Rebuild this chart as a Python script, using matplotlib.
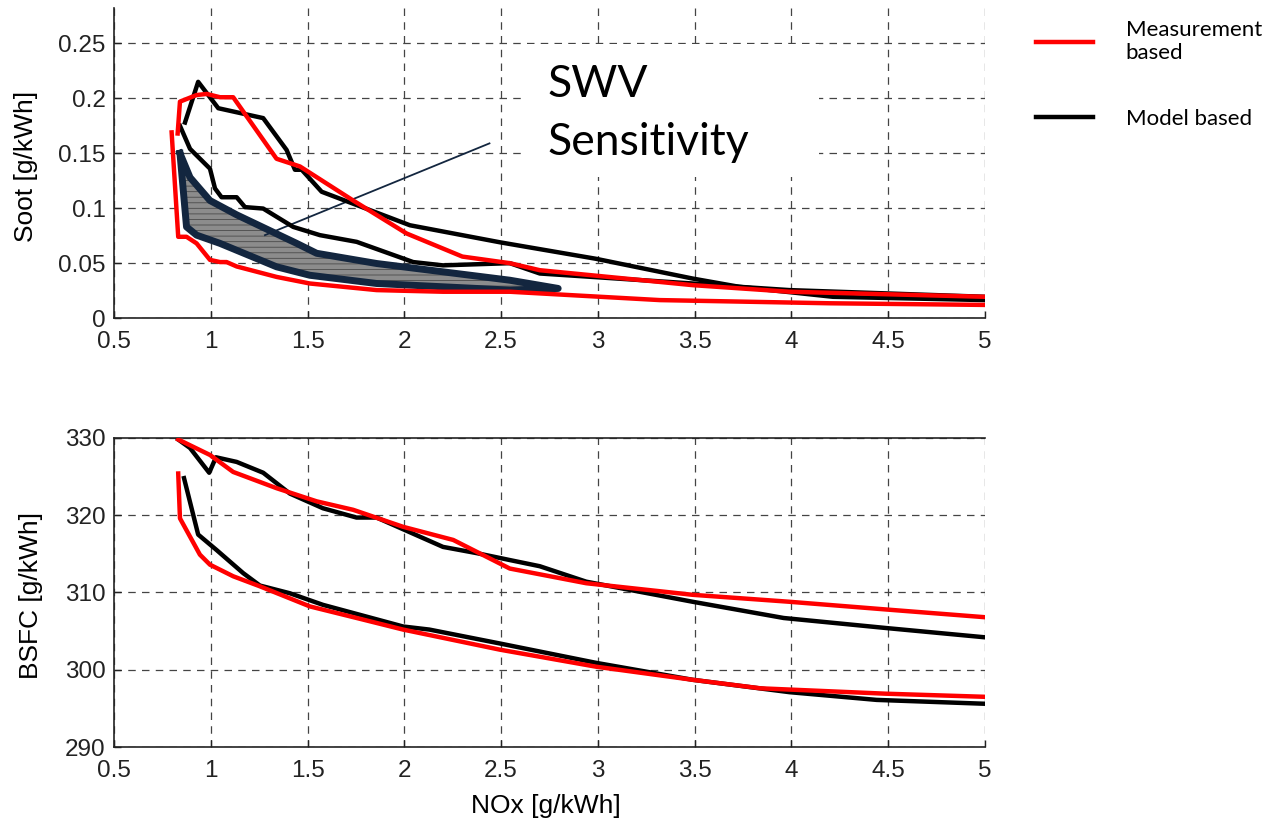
"""
Soot / BSFC vs NOx trade-off, measurement vs model based
"""
import matplotlib
matplotlib.use("Agg")
import matplotlib.pyplot as plt
from matplotlib.patches import Rectangle
from matplotlib.ticker import FormatStrFormatter

# --- soot vs NOx ---
meas_soot_1_x = [0.798, 0.832, 0.875, 0.927, 0.996, 1.048, 1.082, 1.134, 1.34, 1.512, 1.857, 2.20, 2.545, 3.32, 4.2, 5.0]
meas_soot_1_y = [0.169, 0.074, 0.074, 0.068, 0.053, 0.051, 0.051, 0.047, 0.0375, 0.0315, 0.0255, 0.024, 0.024, 0.0164, 0.0135, 0.012]

meas_soot_2_x = [0.829, 0.841, 0.927, 0.979, 1.048, 1.116, 1.34, 1.461, 1.736, 2.012, 2.30, 2.545, 2.70, 3.49, 3.99, 5.0]
meas_soot_2_y = [0.168, 0.197, 0.203, 0.204, 0.201, 0.201, 0.145, 0.138, 0.107, 0.077, 0.056, 0.050, 0.0436, 0.030, 0.024, 0.0194]

model_soot_1_x = [0.867, 0.935, 1.039, 1.271, 1.392, 1.435, 1.47, 1.573, 2.029, 2.494, 2.99, 3.49, 3.73, 3.99, 5.0]
model_soot_1_y = [0.178, 0.215, 0.191, 0.182, 0.153, 0.135, 0.135, 0.115, 0.0845, 0.069, 0.054, 0.036, 0.0285, 0.0255, 0.0194]

model_soot_2_x = [0.841, 0.893, 0.996, 1.022, 1.056, 1.134, 1.177, 1.271, 1.426, 1.564, 1.754, 2.046, 2.20, 2.545, 2.70, 3.49, 3.73, 4.215, 5.0]
model_soot_2_y = [0.175, 0.154, 0.136, 0.118, 0.110, 0.110, 0.101, 0.0997, 0.083, 0.0755, 0.0694, 0.051, 0.048, 0.050, 0.0406, 0.0315, 0.0285, 0.0194, 0.0164]

# sensitivity band (upper edge then lower edge back)
band_x = [0.841, 0.893, 0.996, 1.134, 1.444, 1.547, 1.857, 2.545, 2.795,
          2.545, 2.20, 1.857, 1.512, 1.34, 1.048, 0.927, 0.875, 0.841]
band_y = [0.150, 0.128, 0.107, 0.094, 0.068, 0.059, 0.0497, 0.0345, 0.027,
          0.0255, 0.0285, 0.0315, 0.039, 0.0467, 0.068, 0.0755, 0.083, 0.150]

pointer_x = [1.28, 2.44]
pointer_y = [0.0755, 0.159]

# --- BSFC vs NOx ---
meas_bsfc_1_x = [0.832, 0.996, 1.116, 1.34, 1.547, 1.736, 1.994, 2.253, 2.545, 2.94, 3.49, 3.99, 4.49, 5.0]
meas_bsfc_1_y = [329.8, 327.8, 325.6, 323.5, 321.8, 320.7, 318.5, 316.8, 313.1, 311.2, 309.7, 308.8, 307.8, 306.8]

model_bsfc_1_x = [0.832, 0.893, 0.992, 1.027, 1.134, 1.271, 1.409, 1.58, 1.753, 1.857, 2.20, 2.373, 2.545, 2.70, 2.94, 3.49, 3.96, 4.49, 5.0]
model_bsfc_1_y = [329.8, 328.7, 325.5, 327.5, 326.9, 325.5, 322.8, 320.9, 319.7, 319.7, 315.9, 315.1, 314.2, 313.4, 311.4, 308.8, 306.7, 305.4, 304.2]

meas_bsfc_2_x = [0.832, 0.841, 0.944, 0.996, 1.116, 1.254, 1.512, 1.754, 1.994, 2.494, 2.99, 3.49, 3.84, 4.49, 5.0]
meas_bsfc_2_y = [325.4, 319.6, 314.9, 313.6, 312.1, 310.8, 308.2, 306.7, 305.2, 302.6, 300.4, 298.7, 297.6, 296.9, 296.5]

model_bsfc_2_x = [0.862, 0.935, 1.03, 1.168, 1.254, 1.409, 1.58, 1.994, 2.13, 2.494, 2.99, 3.49, 3.99, 4.44, 5.0]
model_bsfc_2_y = [324.8, 317.5, 315.5, 312.5, 310.9, 309.9, 308.4, 305.6, 305.2, 303.4, 300.9, 298.7, 297.1, 296.1, 295.6]

x_ticks = [0.5, 1, 1.5, 2, 2.5, 3, 3.5, 4, 4.5, 5]
soot_ticks = [0, 0.05, 0.1, 0.15, 0.2, 0.25]
bsfc_ticks = [290, 300, 310, 320, 330]

RED = "#ff0000"
BLACK = "#000000"
NAVY = "#13263f"
LW = 3.2

plt.rcParams["font.family"] = ["Liberation Sans", "DejaVu Sans"]
plt.rcParams["hatch.linewidth"] = 0.6

fig = plt.figure(figsize=(12.79, 8.22), dpi=100)
ax1 = fig.add_axes([0.0891, 0.613, 0.681, 0.377])
ax2 = fig.add_axes([0.0891, 0.0912, 0.681, 0.376])


def style_axes(ax, yticks, ylim, show_top):
    ax.set_xlim(0.5, 5)
    ax.set_ylim(*ylim)
    ax.set_xticks(x_ticks)
    ax.set_yticks(yticks)
    ax.xaxis.set_major_formatter(FormatStrFormatter("%g"))
    ax.yaxis.set_major_formatter(FormatStrFormatter("%g"))
    ax.tick_params(direction="in", length=5, width=1, labelsize=17.5, colors="#222222")
    ax.tick_params(axis="x", pad=9)
    ax.tick_params(axis="y", pad=6)
    ax.grid(True, color="#444444", linestyle=(0, (6, 5)), linewidth=0.9)
    ax.spines["right"].set_visible(False)
    ax.spines["top"].set_visible(show_top)
    for s in ax.spines.values():
        s.set_color("#222222")
        s.set_linewidth(1.2)
    ax.set_axisbelow(True)


style_axes(ax1, soot_ticks, (0, 0.282), False)
style_axes(ax2, bsfc_ticks, (290, 330), True)

# top panel
ax1.fill(band_x, band_y, facecolor="#8c8c8c", edgecolor="#4a4a4a", hatch="---", linewidth=0, zorder=2)
ax1.plot(band_x, band_y, color=NAVY, linewidth=5, solid_joinstyle="round", zorder=3)
ax1.plot(pointer_x, pointer_y, color=NAVY, linewidth=1.3, zorder=4)

meas_line, = ax1.plot(meas_soot_1_x, meas_soot_1_y, color=RED, linewidth=LW, zorder=5)
ax1.plot(meas_soot_2_x, meas_soot_2_y, color=RED, linewidth=LW, zorder=5)
model_line, = ax1.plot(model_soot_1_x, model_soot_1_y, color=BLACK, linewidth=LW, zorder=4)
ax1.plot(model_soot_2_x, model_soot_2_y, color=BLACK, linewidth=LW, zorder=4)

ax1.add_patch(Rectangle((2.62, 0.128), 1.52, 0.121, facecolor="white", edgecolor="none", zorder=1))
ax1.text(2.74, 0.186, "SWV\nSensitivity", fontsize=32, family=["Lato", "DejaVu Sans"],
         ha="left", va="center", linespacing=1.5, zorder=6)
ax1.set_ylabel("Soot [g/kWh]", fontsize=19)
ax1.yaxis.set_label_coords(-0.087, 0.49)

# bottom panel
ax2.plot(meas_bsfc_1_x, meas_bsfc_1_y, color=RED, linewidth=LW, zorder=5)
ax2.plot(meas_bsfc_2_x, meas_bsfc_2_y, color=RED, linewidth=LW, zorder=5)
ax2.plot(model_bsfc_1_x, model_bsfc_1_y, color=BLACK, linewidth=LW, zorder=4)
ax2.plot(model_bsfc_2_x, model_bsfc_2_y, color=BLACK, linewidth=LW, zorder=4)
ax2.set_ylabel("BSFC [g/kWh]", fontsize=19)
ax2.yaxis.set_label_coords(-0.0815, 0.49)
ax2.set_xlabel("NOx [g/kWh]", fontsize=19)
ax2.xaxis.set_label_coords(0.496, -0.152)

fig.legend([meas_line, model_line], ["Measurement\nbased", "Model based"],
           loc="upper left", bbox_to_anchor=(0.794, 1.0), frameon=False,
           prop={"family": ["Lato", "DejaVu Sans"], "size": 16},
           handlelength=2.6, handletextpad=1.45, labelspacing=2.05)

fig.savefig("out.png", dpi=100)
